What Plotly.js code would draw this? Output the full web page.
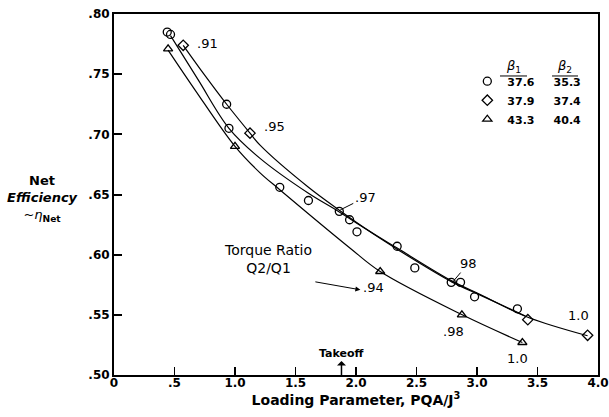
<!DOCTYPE html>
<html>
<head>
<meta charset="utf-8">
<script src="https://cdn.plot.ly/plotly-3.0.1.min.js"></script>
<style>html,body{margin:0;padding:0;background:#fff;}#chart{width:609px;height:417px;}</style>
</head>
<body>
<div id="chart"></div>
<script>
var circX = [0.44, 0.467, 0.931, 0.95, 1.37, 1.607, 1.862, 1.947, 2.008, 2.34, 2.486, 2.787, 2.864, 2.98, 3.334];
var circY = [0.785, 0.783, 0.725, 0.705, 0.656, 0.645, 0.636, 0.629, 0.619, 0.607, 0.589, 0.577, 0.577, 0.565, 0.555];
var diaX = [0.572, 1.124, 3.42, 3.914];
var diaY = [0.774, 0.701, 0.546, 0.533];
var triX = [0.447, 1.0, 2.2, 2.875, 3.375];
var triY = [0.771, 0.690, 0.586, 0.550, 0.527];

// Faired curves
var topX = [0.572, 0.751, 0.931, 1.124, 1.207, 1.607, 1.862, 2.12, 2.34, 2.795, 3.031, 3.42, 3.914];
var topY = [0.774, 0.749, 0.725, 0.701, 0.691, 0.656, 0.637, 0.619, 0.6055, 0.578, 0.5667, 0.548, 0.5326];
var midX = [0.467, 0.696, 0.95, 1.207, 1.607, 1.862, 2.34, 2.795, 3.031, 3.40];
var midY = [0.782, 0.7452, 0.705, 0.680, 0.651, 0.6355, 0.6045, 0.5772, 0.5662, 0.549];
var lowX = [0.447, 0.669, 1.0, 1.207, 1.37, 1.952, 2.2, 2.878, 3.375];
var lowY = [0.770, 0.737, 0.690, 0.668, 0.654, 0.6054, 0.586, 0.550, 0.527];

// Legend values
var beta1 = ["37.6", "37.9", "43.3"];
var beta2 = ["35.3", "37.4", "40.4"];

// Tick labels
var xTickVals = [0, 0.5, 1.0, 1.5, 2.0, 2.5, 3.0, 3.5, 4.0];
var xTickText = ["0", ".5", "1.0", "1.5", "2.0", "2.5", "3.0", "3.5", "4.0"];
var yTickVals = [0.50, 0.55, 0.60, 0.65, 0.70, 0.75, 0.80];
var yTickText = [".50", ".55", ".60", ".65", ".70", ".75", ".80"];

var FONT = "DejaVu Sans";
var sp = "&nbsp;&nbsp;&nbsp;&nbsp;&nbsp;";

function curve(x, y) {
  return {x: x, y: y, type: "scatter", mode: "lines", showlegend: false, hoverinfo: "skip",
    line: {color: "#000", width: 1.2, shape: "spline", smoothing: 1}};
}
function pts(x, y, sym, size, name) {
  return {x: x, y: y, type: "scatter", mode: "markers", name: name,
    marker: {symbol: sym, size: size, color: "#000", line: {color: "#000", width: 1.3}}};
}

var data = [
  curve(topX, topY), curve(midX, midY), curve(lowX, lowY),
  pts(circX, circY, "circle-open", 8, beta1[0] + sp + beta2[0]),
  pts(diaX, diaY, "diamond-open", 8, beta1[1] + sp + beta2[1]),
  pts(triX, triY, "triangle-up-open", 8, beta1[2] + sp + beta2[2])
];

function lbl(t, x, y, size) {
  return {text: t, x: x, y: y, xref: "x", yref: "y", showarrow: false, font: {family: FONT, size: size || 13, color: "#000"}};
}

var annotations = [
  lbl(".91", 0.770, 0.7751),
  lbl(".95", 1.323, 0.7061),
  lbl("Torque Ratio<br>Q2/Q1", 1.273, 0.5965, 14),
  lbl(".94", 2.143, 0.5724),
  lbl(".98", 2.806, 0.5359),
  lbl("1.0", 3.336, 0.5135),
  lbl("1.0", 3.842, 0.5492),
  {text: ".97", x: 1.870, y: 0.6372, ax: 25, ay: -12.5, showarrow: true, arrowhead: 0, arrowwidth: 1, arrowcolor: "#000",
   font: {family: FONT, size: 13, color: "#000"}},
  {text: "98", x: 2.795, y: 0.5768, ax: 16, ay: -19, showarrow: true, arrowhead: 0, arrowwidth: 1, arrowcolor: "#000",
   font: {family: FONT, size: 13, color: "#000"}},
  {text: " ", x: 2.036, y: 0.5708, ax: -47, ay: -8.3, showarrow: true, arrowhead: 2, arrowsize: 1, arrowwidth: 1, arrowcolor: "#000",
   font: {family: FONT, size: 4, color: "#000"}},
  {text: "<b>Takeoff</b>", x: 1.88, y: 0.50, ax: 0, ay: -22, showarrow: true, arrowhead: 2, arrowside: "start", arrowsize: 0.8, arrowwidth: 1.5, arrowcolor: "#000",
   font: {family: FONT, size: 11, color: "#000"}},
  {text: "<b>Net</b><br><b><i>Efficiency</i></b><br>~<i>η</i><b><sub>Net</sub></b>", xref: "paper", yref: "paper", x: -0.1467, y: 0.4903,
   xanchor: "center", yanchor: "middle", showarrow: false, font: {family: FONT, size: 13, color: "#000"}},
  {text: "<i>β</i><sub>1</sub>", xref: "paper", yref: "paper", x: 0.8244, y: 0.8532, xanchor: "center", yanchor: "middle", showarrow: false,
   font: {family: FONT, size: 13, color: "#000"}},
  {text: "<i>β</i><sub>2</sub>", xref: "paper", yref: "paper", x: 0.9318, y: 0.8532, xanchor: "center", yanchor: "middle", showarrow: false,
   font: {family: FONT, size: 13, color: "#000"}}
];

var shapes = [
  {type: "line", xref: "paper", yref: "paper", x0: 0.7975, x1: 0.8533, y0: 0.8283, y1: 0.8283, line: {color: "#000", width: 1}},
  {type: "line", xref: "paper", yref: "paper", x0: 0.905, x1: 0.9587, y0: 0.8283, y1: 0.8283, line: {color: "#000", width: 1}}
];

var layout = {
  width: 609, height: 417,
  margin: {l: 114, r: 11, t: 14, b: 42, pad: 0},
  paper_bgcolor: "#fff", plot_bgcolor: "#fff",
  font: {family: FONT, color: "#000"},
  showlegend: true,
  legend: {x: 0.73, xanchor: "left", y: 0.854, yanchor: "top", bgcolor: "rgba(0,0,0,0)", borderwidth: 0,
    font: {family: FONT, size: 11, color: "#000", weight: "bold"}, itemwidth: 30, tracegroupgap: 0},
  xaxis: {
    range: [0, 4], tickmode: "array", tickvals: xTickVals, ticktext: xTickText,
    ticks: "inside", ticklen: 8, tickwidth: 1.5, tickcolor: "#000", ticklabelstandoff: -4,
    showline: true, linecolor: "#000", linewidth: 2, mirror: true, showgrid: false, zeroline: false,
    tickfont: {family: FONT, size: 12, color: "#000", weight: "bold"},
    title: {text: "<b>Loading Parameter, PQA/J<sup>3</sup></b>", font: {family: FONT, size: 14, color: "#000"}, standoff: 6}
  },
  yaxis: {
    range: [0.50, 0.80], tickmode: "array", tickvals: yTickVals, ticktext: yTickText,
    ticks: "inside", ticklen: 8, tickwidth: 2, tickcolor: "#000",
    showline: true, linecolor: "#000", linewidth: 2, mirror: true, showgrid: false, zeroline: false,
    tickfont: {family: FONT, size: 12, color: "#000", weight: "bold"}
  },
  annotations: annotations,
  shapes: shapes
};

Plotly.newPlot("chart", data, layout, {displayModeBar: false, staticPlot: true});
</script>
</body>
</html>
